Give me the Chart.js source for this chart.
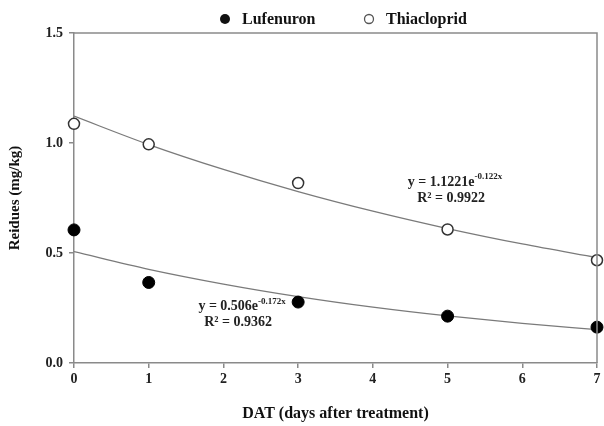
<!DOCTYPE html>
<html>
<head>
<meta charset="utf-8">
<script src="https://cdn.jsdelivr.net/npm/chart.js@4"></script>
<style>
  html, body { margin: 0; padding: 0; background: #fff; overflow: hidden; }
</style>
</head>
<body>
<canvas id="myChart" width="604" height="426"></canvas>
<script>
// data
let days = [0, 1, 3, 5, 7];
let lufenuron = [0.605, 0.366, 0.277, 0.213, 0.163];
let thiacloprid = [1.087, 0.994, 0.818, 0.607, 0.467];

// fitted curves
let curveDays = [0, 1, 2, 3, 4, 5, 6, 7];
let lufenuronFit = [0.506, 0.426, 0.359, 0.302, 0.254, 0.214, 0.180, 0.152];
let thiaclopridFit = [1.122, 0.993, 0.880, 0.779, 0.690, 0.611, 0.541, 0.479];

let yTicks = [0, 0.5, 1.0, 1.5];

// equation labels: [x, y, main, superscript, r2]
let eqLufenuron = [2.25, 0.258, 'y = 0.506e', '-0.172x', 'R\u00b2 = 0.9362'];
let eqThiacloprid = [5.1, 0.823, 'y = 1.1221e', '-0.122x', 'R\u00b2 = 0.9922'];

const serif = "'Liberation Serif', 'Times New Roman', serif";
const axisGray = '#8a8a8a';

function toPoints(xs, ys) {
  let pts = [];
  for (let i = 0; i < xs.length; i++) {
    pts.push({ x: xs[i], y: ys[i] });
  }
  return pts;
}

// top + right frame, legend and the regression equations
const extras = {
  id: 'extras',
  afterDraw(chart) {
    const ctx = chart.ctx;
    const a = chart.chartArea;
    ctx.save();
    ctx.strokeStyle = axisGray;
    ctx.lineWidth = 1.5;
    ctx.beginPath();
    ctx.moveTo(a.left, a.top);
    ctx.lineTo(a.right, a.top);
    ctx.lineTo(a.right, a.bottom);
    ctx.stroke();

    // legend
    ctx.font = 'bold 16px ' + serif;
    ctx.textBaseline = 'middle';
    ctx.textAlign = 'left';
    ctx.fillStyle = '#111';
    let ly = 19;
    ctx.beginPath();
    ctx.arc(225, ly, 5, 0, Math.PI * 2);
    ctx.fill();
    ctx.fillText(chart.data.datasets[0].label, 242, ly + 1);
    ctx.beginPath();
    ctx.arc(369, ly, 4.5, 0, Math.PI * 2);
    ctx.fillStyle = '#fff';
    ctx.fill();
    ctx.strokeStyle = '#555';
    ctx.lineWidth = 1.3;
    ctx.stroke();
    ctx.fillStyle = '#111';
    ctx.fillText(chart.data.datasets[1].label, 386, ly + 1);

    let xs = chart.scales.x;
    let ys = chart.scales.y;
    [eqLufenuron, eqThiacloprid].forEach(function (eq) {
      let cx = xs.getPixelForValue(eq[0]);
      let cy = ys.getPixelForValue(eq[1]);
      ctx.fillStyle = '#222';
      ctx.textBaseline = 'middle';
      ctx.font = 'bold 14px ' + serif;
      let w1 = ctx.measureText(eq[2]).width;
      ctx.font = 'bold 9px ' + serif;
      let w2 = ctx.measureText(eq[3]).width;
      let start = cx - (w1 + w2) / 2;
      ctx.font = 'bold 14px ' + serif;
      ctx.textAlign = 'left';
      ctx.fillText(eq[2], start, cy);
      ctx.font = 'bold 9px ' + serif;
      ctx.fillText(eq[3], start + w1, cy - 5);
      ctx.font = 'bold 14px ' + serif;
      ctx.textAlign = 'center';
      ctx.fillText(eq[4], cx - 4, cy + 16);
    });
    ctx.restore();
  }
};

const data = {
  datasets: [
    {
      label: 'Lufenuron',
      data: toPoints(days, lufenuron),
      showLine: false,
      pointStyle: 'circle',
      pointRadius: 6,
      pointBackgroundColor: '#000',
      pointBorderColor: '#000',
      pointBorderWidth: 1,
      clip: false,
      order: 0
    },
    {
      label: 'Thiacloprid',
      data: toPoints(days, thiacloprid),
      showLine: false,
      pointStyle: 'circle',
      pointRadius: 5.5,
      pointBackgroundColor: '#fff',
      pointBorderColor: '#333',
      pointBorderWidth: 1.5,
      clip: false,
      order: 0
    },
    {
      label: 'fit1',
      data: toPoints(curveDays, lufenuronFit),
      showLine: true,
      borderColor: '#7a7a7a',
      borderWidth: 1.3,
      pointRadius: 0,
      cubicInterpolationMode: 'monotone',
      order: 1
    },
    {
      label: 'fit2',
      data: toPoints(curveDays, thiaclopridFit),
      showLine: true,
      borderColor: '#7a7a7a',
      borderWidth: 1.3,
      pointRadius: 0,
      cubicInterpolationMode: 'monotone',
      order: 1
    }
  ]
};

const config = {
  type: 'scatter',
  data: data,
  options: {
    responsive: false,
    animation: false,
    layout: { padding: { right: 5, top: 33 } },
    plugins: {
      tooltip: { enabled: false },
      legend: { display: false }
    },
    scales: {
      x: {
        type: 'linear',
        min: 0,
        max: 7,
        afterFit: function (s) {
          s.height = 63;
          s.paddingLeft = 0;
          s.paddingRight = 0;
        },
        ticks: {
          stepSize: 1,
          color: '#222',
          padding: 3,
          font: { family: serif, size: 14, weight: 'bold' }
        },
        grid: { drawOnChartArea: false, tickLength: 5, color: axisGray, lineWidth: 1.5 },
        border: { color: axisGray, width: 1.5 },
        title: {
          display: true,
          text: 'DAT (days after treatment)',
          color: '#111',
          padding: { top: 0, bottom: 3 },
          font: { family: serif, size: 16, weight: 'bold' }
        }
      },
      y: {
        min: 0,
        max: 1.5,
        afterFit: function (s) { s.width = 74; },
        afterBuildTicks: function (s) {
          s.ticks = yTicks.map(function (v) { return { value: v }; });
        },
        ticks: {
          color: '#222',
          padding: 6,
          callback: function (v) { return v.toFixed(1); },
          font: { family: serif, size: 14, weight: 'bold' }
        },
        grid: { drawOnChartArea: false, tickLength: 5, color: axisGray, lineWidth: 1.5 },
        border: { color: axisGray, width: 1.5 },
        title: {
          display: true,
          text: 'Reidues (mg/kg)',
          color: '#111',
          padding: { top: 6, bottom: 0 },
          font: { family: serif, size: 15, weight: 'bold' }
        }
      }
    }
  },
  plugins: [extras]
};

const myChart = new Chart(document.getElementById('myChart'), config);
</script>
</body>
</html>
